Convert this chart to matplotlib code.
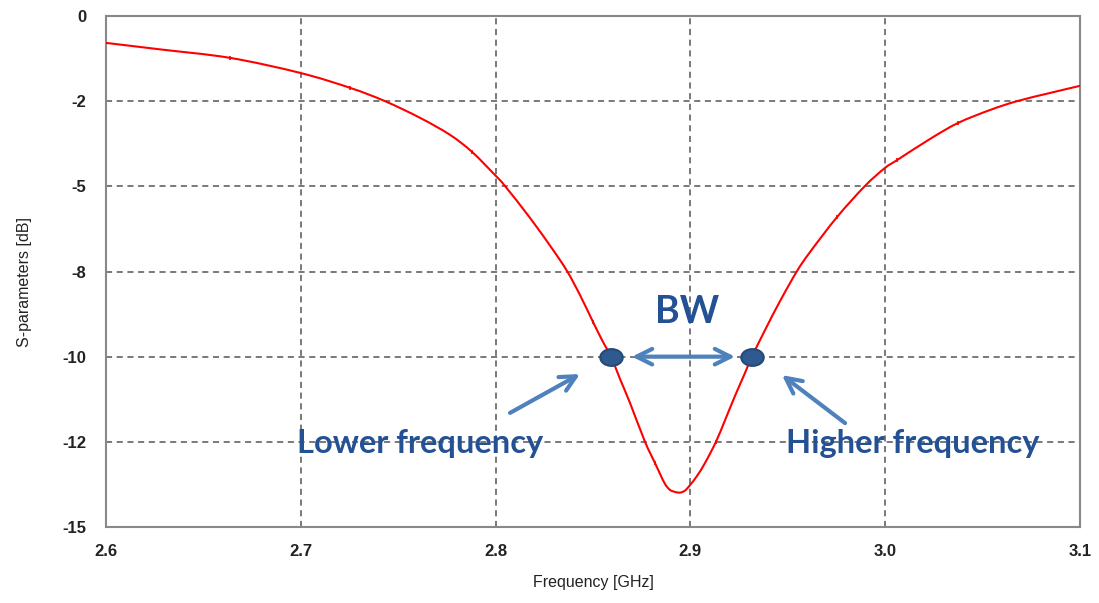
import matplotlib
matplotlib.use("Agg")
import matplotlib.pyplot as plt
from matplotlib.path import Path
from matplotlib.patches import PathPatch
import numpy as np

# measured S11 curve
freq = [2.6000, 2.6277, 2.6637, 2.6996, 2.7253, 2.7432, 2.7612, 2.7766, 2.7879,
        2.7997, 2.8048, 2.8177, 2.8295, 2.8367, 2.8433, 2.8500, 2.8546, 2.8592,
        2.8639, 2.8690, 2.8767, 2.8818, 2.8844, 2.8870, 2.8895, 2.8921, 2.8947,
        2.8972, 2.8998, 2.9034, 2.9075, 2.9131, 2.9178, 2.9229, 2.9280, 2.9316,
        2.9383, 2.9460, 2.9547, 2.9614, 2.9753, 2.9896, 2.9999, 3.0061, 3.0230,
        3.0374, 3.0538, 3.0677, 3.0846, 3.1000]
s11 = [-0.79, -0.98, -1.23, -1.67, -2.11, -2.50, -2.99, -3.49, -3.99,
       -4.67, -4.99, -5.93, -6.87, -7.49, -8.19, -8.98, -9.51, -10.00,
       -10.66, -11.36, -12.50, -13.12, -13.44, -13.74, -13.91, -13.97, -13.99,
       -13.93, -13.77, -13.50, -13.12, -12.50, -11.86, -11.15, -10.48, -10.00,
       -9.22, -8.37, -7.49, -6.93, -5.90, -4.99, -4.46, -4.23, -3.61,
       -3.14, -2.76, -2.50, -2.26, -2.05]
# indices of the sample points that carry a marker
marked = [2, 4, 8, 15, 21, 31, 40, 43, 45]

# -10 dB band edges
f_low = 2.8592
f_high = 2.9316
level = -10

xticks = [2.6, 2.7, 2.8, 2.9, 3.0, 3.1]
xlabels = ["2.6", "2.7", "2.8", "2.9", "3.0", "3.1"]
yticks = [0, -2.5, -5, -7.5, -10, -12.5, -15]
ylabels = ["0", "-2", "-5", "-8", "-10", "-12", "-15"]


def smooth_path(xs, ys):
    # bezier segments through every point, spreadsheet-style smoothed line
    p = np.column_stack([xs, ys])
    n = len(p)
    verts = [p[0]]
    codes = [Path.MOVETO]
    for i in range(n - 1):
        prev = p[i - 1] if i > 0 else p[i]
        nxt = p[i + 2] if i + 2 < n else p[i + 1]
        c1 = p[i] + (p[i + 1] - prev) / 6
        c2 = p[i + 1] - (nxt - p[i]) / 6
        verts += [c1, c2, p[i + 1]]
        codes += [Path.CURVE4] * 3
    return Path(verts, codes)


plt.rcParams['font.family'] = ['Liberation Sans', 'DejaVu Sans']

fig = plt.figure(figsize=(10.99, 6.03), dpi=100)
ax = fig.add_axes([0.0965, 0.126, 0.8862, 0.8475])

ax.add_patch(PathPatch(smooth_path(freq, s11), facecolor='none',
                       edgecolor='#ff0000', lw=1.5, zorder=3))
ax.plot([freq[i] for i in marked], [s11[i] for i in marked], linestyle='none',
        color='#ff0000', marker='|', ms=3, mew=1.2, zorder=3)

ax.set_xlim(2.6, 3.1)
ax.set_ylim(-15, 0)
ax.set_xticks(xticks)
ax.set_xticklabels(xlabels)
ax.set_yticks(yticks)
ax.set_yticklabels(ylabels)
ax.tick_params(length=0, labelsize=12, labelcolor='#222222')
ax.tick_params(axis='x', pad=12)
ax.tick_params(axis='y', pad=14)
for lab in ax.get_xticklabels() + ax.get_yticklabels():
    lab.set_fontweight('bold')

ax.grid(True, color='#555555', lw=1.1, linestyle=(0, (4, 3)))
for s in ax.spines.values():
    s.set_color('#888888')
    s.set_linewidth(1.5)

ax.set_xlabel("Frequency [GHz]", fontsize=11.5, color='#222222', labelpad=12)
ax.set_ylabel("S-parameters [dB]", fontsize=11.5, color='#222222', labelpad=26)
ax.yaxis.set_label_coords(-0.076, 0.48)

# band edge dots (slightly flattened)
circ = Path.unit_circle()
oval = Path(circ.vertices * np.array([1.0, 0.75]), circ.codes)
ax.scatter([f_low, f_high], [level, level], s=260, marker=oval,
           facecolor='#2f5a8f', edgecolor='#244a78', lw=1.5, zorder=5)

arrow_c = '#4f81bd'
text_c = '#235194'
head = dict(color=arrow_c, lw=3, mutation_scale=28, shrinkA=0, shrinkB=0)
ax.annotate("", xy=(2.8700, level), xytext=(2.9229, level),
            arrowprops=dict(arrowstyle='<->', **head), zorder=4)
ax.annotate("", xy=(2.8433, -10.51), xytext=(2.8074, -11.65),
            arrowprops=dict(arrowstyle='->', **head), zorder=4)
ax.annotate("", xy=(2.9470, -10.54), xytext=(2.9794, -11.95),
            arrowprops=dict(arrowstyle='->', **head), zorder=4)

ax.text(2.8983, -9.01, "BW", family='Lato', fontweight='bold', fontsize=27,
        color=text_c, ha='center', va='baseline', zorder=6)
ax.text(2.7612, -12.83, "Lower frequency", family='Lato', fontweight='bold',
        fontsize=23.5, color=text_c, ha='center', va='baseline', zorder=6)
ax.text(3.0140, -12.83, "Higher frequency", family='Lato', fontweight='bold',
        fontsize=23.5, color=text_c, ha='center', va='baseline', zorder=6)

fig.savefig("out.png", dpi=100)
